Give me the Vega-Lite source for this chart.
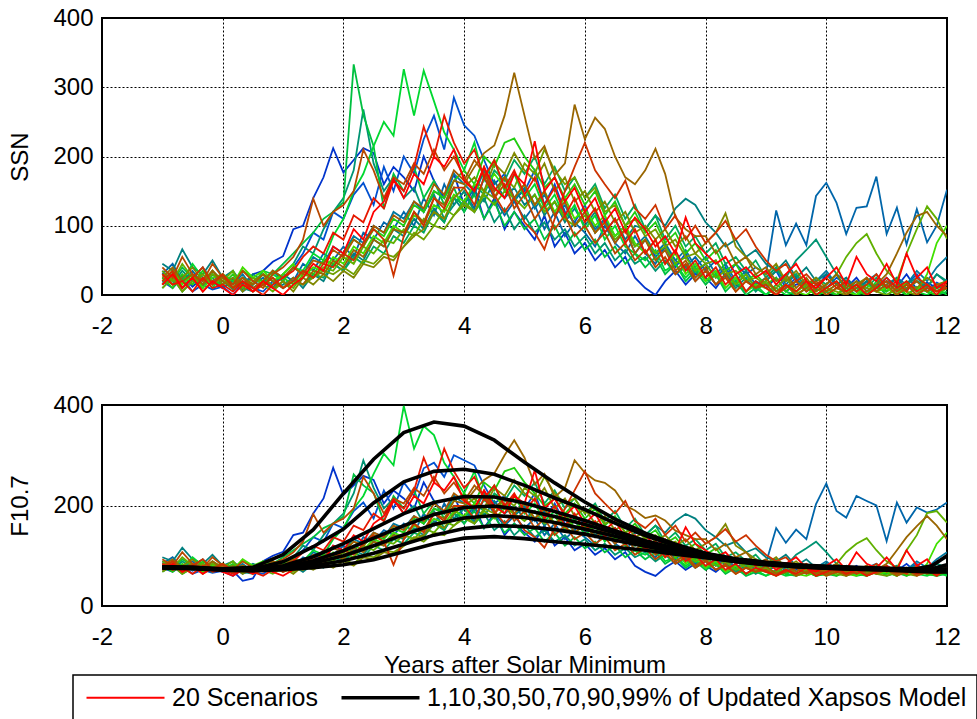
{
  "$schema": "https://vega.github.io/schema/vega-lite/v6.json",
  "usermeta": {"embedOptions": {"actions": false}},
  "background": "white",
  "padding": {"left": 7, "top": 5, "right": 0, "bottom": 0},
  "spacing": 110,
  "bounds": "flush",
  "config": {
    "font": "Liberation Sans",
    "view": {"stroke": "#000", "strokeWidth": 2},
    "axis": {
      "domain": false, "ticks": false, "tickSize": 0,
      "labelFont": "Liberation Sans", "labelFontSize": 24, "labelColor": "#000",
      "labelFlush": false, "labelOverlap": false,
      "titleFont": "Liberation Sans", "titleFontSize": 24, "titleFontWeight": "normal", "titleColor": "#000",
      "grid": true, "gridColor": "#000", "gridDash": [2, 2], "gridOpacity": 1, "gridWidth": 1
    },
    "axisX": {"labelPadding": 19, "titlePadding": 4, "labelExpr": "'' + datum.value"},
    "axisY": {"labelPadding": 9, "titlePadding": 20},
    "legend": {
      "labelFont": "Liberation Sans", "labelFontSize": 25, "labelColor": "#000", "labelLimit": 0,
      "symbolType": "stroke", "symbolSize": 6084, "symbolOffset": 30,
      "strokeColor": "#000", "strokeWidth": 1.5, "fillColor": "#fff", "padding": 10,
      "columnPadding": 16, "labelOffset": 34
    }
  },
  "datasets": {
    "ssn": [
      {"yr":-1,"A":35,"B":20,"C":30,"D":15,"E":45,"F":25,"G":10,"H":30,"I":15,"J":25,"K":20,"L":35,"M":10,"N":30,"O":25,"P":15,"Q":40,"R":20,"S":30,"T":15},
      {"yr":-0.83,"A":20,"B":10,"C":45,"D":30,"E":35,"F":15,"G":25,"H":20,"I":35,"J":10,"K":35,"L":20,"M":25,"N":15,"O":40,"P":30,"Q":25,"R":35,"S":15,"T":30},
      {"yr":-0.67,"A":28,"B":25,"C":20,"D":10,"E":66,"F":35,"G":5,"H":40,"I":20,"J":30,"K":15,"L":45,"M":5,"N":25,"O":20,"P":10,"Q":55,"R":10,"S":20,"T":10},
      {"yr":-0.5,"A":12,"B":5,"C":35,"D":25,"E":40,"F":20,"G":20,"H":25,"I":45,"J":15,"K":30,"L":25,"M":20,"N":40,"O":30,"P":25,"Q":30,"R":25,"S":5,"T":25},
      {"yr":-0.33,"A":25,"B":15,"C":15,"D":40,"E":30,"F":10,"G":30,"H":15,"I":25,"J":35,"K":10,"L":15,"M":30,"N":20,"O":15,"P":5,"Q":20,"R":40,"S":25,"T":5},
      {"yr":-0.17,"A":18,"B":8,"C":25,"D":20,"E":50,"F":30,"G":15,"H":35,"I":10,"J":20,"K":25,"L":30,"M":15,"N":35,"O":35,"P":20,"Q":45,"R":15,"S":10,"T":20},
      {"yr":0,"A":10,"B":12,"C":10,"D":25,"E":25,"F":15,"G":20,"H":20,"I":30,"J":15,"K":30,"L":20,"M":25,"N":15,"O":20,"P":30,"Q":25,"R":30,"S":15,"T":10},
      {"yr":0.17,"A":22,"B":0,"C":20,"D":15,"E":35,"F":25,"G":8,"H":10,"I":20,"J":30,"K":15,"L":35,"M":10,"N":25,"O":10,"P":15,"Q":15,"R":10,"S":5,"T":0},
      {"yr":0.33,"A":8,"B":18,"C":5,"D":30,"E":15,"F":10,"G":25,"H":25,"I":35,"J":10,"K":40,"L":10,"M":20,"N":5,"O":25,"P":25,"Q":35,"R":20,"S":20,"T":15},
      {"yr":0.5,"A":30,"B":10,"C":15,"D":10,"E":30,"F":5,"G":15,"H":15,"I":25,"J":25,"K":25,"L":25,"M":5,"N":20,"O":15,"P":10,"Q":20,"R":5,"S":10,"T":5},
      {"yr":0.67,"A":35,"B":5,"C":25,"D":20,"E":20,"F":20,"G":30,"H":35,"I":15,"J":20,"K":35,"L":15,"M":15,"N":30,"O":30,"P":20,"Q":10,"R":15,"S":0,"T":20},
      {"yr":0.83,"A":48,"B":20,"C":10,"D":35,"E":10,"F":15,"G":20,"H":30,"I":30,"J":35,"K":20,"L":5,"M":25,"N":10,"O":20,"P":35,"Q":30,"R":25,"S":15,"T":10},
      {"yr":1,"A":56,"B":25,"C":30,"D":20,"E":15,"F":30,"G":10,"H":45,"I":20,"J":25,"K":30,"L":20,"M":10,"N":20,"O":10,"P":25,"Q":40,"R":10,"S":25,"T":0},
      {"yr":1.17,"A":95,"B":40,"C":20,"D":40,"E":25,"F":45,"G":20,"H":60,"I":40,"J":15,"K":45,"L":10,"M":20,"N":5,"O":25,"P":40,"Q":55,"R":20,"S":35,"T":15},
      {"yr":1.33,"A":100,"B":60,"C":45,"D":30,"E":10,"F":70,"G":15,"H":75,"I":35,"J":35,"K":25,"L":30,"M":15,"N":25,"O":15,"P":30,"Q":80,"R":35,"S":55,"T":25},
      {"yr":1.5,"A":140,"B":90,"C":35,"D":55,"E":30,"F":60,"G":30,"H":90,"I":60,"J":30,"K":40,"L":25,"M":25,"N":15,"O":35,"P":50,"Q":139,"R":25,"S":70,"T":45},
      {"yr":1.67,"A":170,"B":80,"C":60,"D":45,"E":20,"F":95,"G":25,"H":110,"I":50,"J":50,"K":35,"L":40,"M":35,"N":30,"O":30,"P":45,"Q":100,"R":45,"S":60,"T":35},
      {"yr":1.83,"A":212,"B":120,"C":50,"D":70,"E":45,"F":120,"G":45,"H":120,"I":85,"J":45,"K":55,"L":35,"M":30,"N":20,"O":50,"P":65,"Q":120,"R":40,"S":90,"T":70},
      {"yr":2,"A":177,"B":110,"C":70,"D":60,"E":35,"F":140,"G":35,"H":134,"I":110,"J":60,"K":45,"L":55,"M":40,"N":35,"O":40,"P":55,"Q":130,"R":60,"S":80,"T":60},
      {"yr":2.17,"A":195,"B":145,"C":55,"D":85,"E":60,"F":180,"G":55,"H":333,"I":150,"J":80,"K":70,"L":45,"M":30,"N":25,"O":65,"P":80,"Q":150,"R":50,"S":115,"T":95},
      {"yr":2.33,"A":212,"B":162,"C":90,"D":75,"E":50,"F":268,"G":45,"H":260,"I":175,"J":70,"K":60,"L":70,"M":50,"N":45,"O":55,"P":70,"Q":210,"R":75,"S":105,"T":80},
      {"yr":2.5,"A":205,"B":130,"C":80,"D":100,"E":80,"F":190,"G":70,"H":215,"I":215,"J":95,"K":85,"L":60,"M":45,"N":40,"O":80,"P":100,"Q":180,"R":95,"S":140,"T":120},
      {"yr":2.67,"A":160,"B":185,"C":105,"D":90,"E":70,"F":150,"G":60,"H":124,"I":250,"J":85,"K":75,"L":80,"M":60,"N":55,"O":70,"P":90,"Q":140,"R":80,"S":125,"T":135},
      {"yr":2.83,"A":185,"B":150,"C":95,"D":120,"E":95,"F":170,"G":85,"H":175,"I":230,"J":110,"K":100,"L":75,"M":55,"N":50,"O":95,"P":115,"Q":170,"R":28,"S":165,"T":167},
      {"yr":3,"A":170,"B":200,"C":120,"D":110,"E":85,"F":140,"G":75,"H":150,"I":326,"J":100,"K":90,"L":95,"M":70,"N":70,"O":90,"P":105,"Q":160,"R":85,"S":150,"T":140},
      {"yr":3.17,"A":150,"B":175,"C":100,"D":135,"E":110,"F":155,"G":100,"H":185,"I":259,"J":130,"K":115,"L":85,"M":90,"N":85,"O":120,"P":135,"Q":190,"R":120,"S":185,"T":175},
      {"yr":3.33,"A":200,"B":225,"C":140,"D":120,"E":95,"F":120,"G":90,"H":140,"I":324,"J":120,"K":105,"L":110,"M":80,"N":95,"O":105,"P":125,"Q":175,"R":100,"S":243,"T":160},
      {"yr":3.5,"A":165,"B":259,"C":115,"D":150,"E":125,"F":145,"G":120,"H":165,"I":280,"J":150,"K":130,"L":100,"M":100,"N":120,"O":140,"P":160,"Q":210,"R":140,"S":200,"T":200},
      {"yr":3.67,"A":140,"B":210,"C":160,"D":140,"E":105,"F":110,"G":105,"H":130,"I":235,"J":140,"K":120,"L":125,"M":95,"N":110,"O":130,"P":145,"Q":180,"R":125,"S":259,"T":185},
      {"yr":3.83,"A":175,"B":285,"C":130,"D":175,"E":140,"F":130,"G":140,"H":155,"I":210,"J":165,"K":145,"L":115,"M":115,"N":140,"O":165,"P":180,"Q":200,"R":155,"S":220,"T":210},
      {"yr":4,"A":130,"B":245,"C":150,"D":160,"E":120,"F":150,"G":130,"H":120,"I":180,"J":180,"K":135,"L":135,"M":130,"N":155,"O":160,"P":165,"Q":170,"R":155,"S":190,"T":165},
      {"yr":4.17,"A":155,"B":230,"C":125,"D":145,"E":150,"F":120,"G":160,"H":145,"I":220,"J":160,"K":160,"L":120,"M":120,"N":170,"O":185,"P":195,"Q":150,"R":130,"S":210,"T":150},
      {"yr":4.33,"A":110,"B":195,"C":170,"D":180,"E":135,"F":140,"G":145,"H":110,"I":165,"J":200,"K":150,"L":145,"M":150,"N":150,"O":205,"P":175,"Q":185,"R":170,"S":170,"T":185},
      {"yr":4.5,"A":140,"B":160,"C":140,"D":150,"E":165,"F":105,"G":180,"H":135,"I":195,"J":185,"K":175,"L":130,"M":140,"N":190,"O":216,"P":150,"Q":140,"R":145,"S":195,"T":155},
      {"yr":4.67,"A":95,"B":175,"C":115,"D":170,"E":140,"F":125,"G":165,"H":100,"I":150,"J":220,"K":155,"L":150,"M":170,"N":175,"O":259,"P":170,"Q":160,"R":120,"S":155,"T":140},
      {"yr":4.83,"A":120,"B":140,"C":135,"D":135,"E":155,"F":95,"G":195,"H":120,"I":175,"J":226,"K":140,"L":140,"M":155,"N":205,"O":321,"P":140,"Q":125,"R":140,"S":180,"T":175},
      {"yr":5,"A":100,"B":150,"C":110,"D":155,"E":130,"F":115,"G":175,"H":95,"I":140,"J":200,"K":160,"L":125,"M":190,"N":180,"O":259,"P":160,"Q":145,"R":105,"S":145,"T":160},
      {"yr":5.17,"A":80,"B":180,"C":130,"D":125,"E":145,"F":90,"G":200,"H":110,"I":160,"J":180,"K":130,"L":145,"M":175,"N":165,"O":197,"P":130,"Q":110,"R":90,"S":170,"T":222},
      {"yr":5.33,"A":115,"B":130,"C":95,"D":145,"E":115,"F":105,"G":160,"H":80,"I":125,"J":155,"K":150,"L":120,"M":210,"N":190,"O":215,"P":150,"Q":130,"R":66,"S":130,"T":150},
      {"yr":5.5,"A":70,"B":160,"C":120,"D":115,"E":135,"F":80,"G":185,"H":100,"I":145,"J":170,"K":120,"L":135,"M":180,"N":150,"O":173,"P":115,"Q":95,"R":110,"S":155,"T":170},
      {"yr":5.67,"A":90,"B":120,"C":85,"D":130,"E":105,"F":95,"G":150,"H":70,"I":110,"J":140,"K":140,"L":110,"M":160,"N":170,"O":190,"P":135,"Q":115,"R":150,"S":115,"T":135},
      {"yr":5.83,"A":60,"B":105,"C":105,"D":100,"E":125,"F":70,"G":170,"H":90,"I":130,"J":160,"K":110,"L":100,"M":170,"N":135,"O":275,"P":100,"Q":85,"R":185,"S":140,"T":155},
      {"yr":6,"A":75,"B":130,"C":90,"D":120,"E":100,"F":85,"G":140,"H":65,"I":95,"J":130,"K":125,"L":115,"M":140,"N":150,"O":225,"P":120,"Q":100,"R":220,"S":105,"T":120},
      {"yr":6.17,"A":50,"B":90,"C":70,"D":95,"E":120,"F":60,"G":160,"H":80,"I":115,"J":150,"K":100,"L":90,"M":155,"N":120,"O":256,"P":90,"Q":75,"R":180,"S":125,"T":140},
      {"yr":6.33,"A":65,"B":110,"C":100,"D":110,"E":90,"F":75,"G":125,"H":55,"I":80,"J":115,"K":115,"L":105,"M":120,"N":135,"O":240,"P":105,"Q":90,"R":160,"S":90,"T":105},
      {"yr":6.5,"A":40,"B":75,"C":75,"D":85,"E":110,"F":50,"G":145,"H":70,"I":100,"J":135,"K":85,"L":80,"M":130,"N":105,"O":200,"P":75,"Q":60,"R":140,"S":110,"T":125},
      {"yr":6.67,"A":55,"B":95,"C":60,"D":100,"E":80,"F":65,"G":110,"H":45,"I":70,"J":100,"K":100,"L":95,"M":100,"N":120,"O":170,"P":95,"Q":75,"R":165,"S":75,"T":90},
      {"yr":6.83,"A":25,"B":60,"C":85,"D":70,"E":100,"F":45,"G":130,"H":60,"I":60,"J":120,"K":75,"L":70,"M":110,"N":90,"O":160,"P":60,"Q":50,"R":125,"S":95,"T":112},
      {"yr":7,"A":10,"B":80,"C":60,"D":85,"E":95,"F":55,"G":95,"H":40,"I":50,"J":90,"K":60,"L":80,"M":85,"N":100,"O":180,"P":80,"Q":65,"R":110,"S":60,"T":95},
      {"yr":7.17,"A":0,"B":55,"C":45,"D":60,"E":115,"F":35,"G":115,"H":55,"I":65,"J":105,"K":80,"L":60,"M":95,"N":80,"O":211,"P":50,"Q":40,"R":130,"S":80,"T":70},
      {"yr":7.33,"A":20,"B":70,"C":70,"D":75,"E":100,"F":50,"G":80,"H":30,"I":35,"J":75,"K":45,"L":70,"M":70,"N":95,"O":175,"P":65,"Q":55,"R":95,"S":45,"T":85},
      {"yr":7.5,"A":35,"B":40,"C":50,"D":50,"E":125,"F":30,"G":100,"H":45,"I":45,"J":90,"K":60,"L":45,"M":80,"N":70,"O":112,"P":35,"Q":30,"R":115,"S":65,"T":60},
      {"yr":7.67,"A":15,"B":60,"C":40,"D":65,"E":139,"F":40,"G":70,"H":20,"I":25,"J":60,"K":30,"L":55,"M":55,"N":85,"O":95,"P":50,"Q":45,"R":80,"S":35,"T":112},
      {"yr":7.83,"A":30,"B":30,"C":55,"D":40,"E":130,"F":20,"G":85,"H":35,"I":40,"J":75,"K":45,"L":35,"M":60,"N":60,"O":85,"P":25,"Q":20,"R":100,"S":50,"T":75},
      {"yr":8,"A":25,"B":45,"C":35,"D":55,"E":105,"F":35,"G":60,"H":15,"I":20,"J":50,"K":20,"L":45,"M":45,"N":75,"O":85,"P":40,"Q":35,"R":75,"S":25,"T":60},
      {"yr":8.17,"A":10,"B":25,"C":50,"D":30,"E":90,"F":15,"G":75,"H":30,"I":30,"J":65,"K":35,"L":25,"M":50,"N":90,"O":60,"P":15,"Q":15,"R":90,"S":40,"T":45},
      {"yr":8.33,"A":30,"B":40,"C":25,"D":45,"E":70,"F":30,"G":45,"H":5,"I":10,"J":35,"K":10,"L":35,"M":30,"N":118,"O":75,"P":30,"Q":25,"R":107,"S":15,"T":55},
      {"yr":8.5,"A":15,"B":15,"C":45,"D":20,"E":80,"F":10,"G":55,"H":20,"I":25,"J":45,"K":25,"L":15,"M":35,"N":70,"O":45,"P":5,"Q":5,"R":80,"S":30,"T":30},
      {"yr":8.67,"A":5,"B":30,"C":30,"D":35,"E":55,"F":25,"G":35,"H":0,"I":5,"J":20,"K":5,"L":30,"M":20,"N":55,"O":55,"P":20,"Q":20,"R":95,"S":5,"T":40},
      {"yr":8.83,"A":20,"B":10,"C":40,"D":15,"E":65,"F":5,"G":50,"H":10,"I":15,"J":30,"K":15,"L":10,"M":25,"N":40,"O":30,"P":10,"Q":10,"R":70,"S":20,"T":25},
      {"yr":9,"A":10,"B":20,"C":30,"D":25,"E":45,"F":20,"G":25,"H":0,"I":0,"J":15,"K":10,"L":20,"M":15,"N":30,"O":40,"P":25,"Q":15,"R":50,"S":10,"T":35},
      {"yr":9.17,"A":25,"B":35,"C":122,"D":40,"E":35,"F":35,"G":40,"H":15,"I":10,"J":25,"K":0,"L":5,"M":10,"N":45,"O":20,"P":5,"Q":0,"R":35,"S":0,"T":15},
      {"yr":9.33,"A":5,"B":10,"C":72,"D":15,"E":50,"F":25,"G":20,"H":5,"I":0,"J":5,"K":15,"L":15,"M":25,"N":20,"O":30,"P":15,"Q":10,"R":45,"S":15,"T":30},
      {"yr":9.5,"A":15,"B":25,"C":103,"D":30,"E":25,"F":50,"G":30,"H":0,"I":5,"J":20,"K":5,"L":0,"M":5,"N":35,"O":10,"P":0,"Q":20,"R":20,"S":5,"T":45},
      {"yr":9.67,"A":20,"B":5,"C":72,"D":10,"E":40,"F":65,"G":10,"H":10,"I":15,"J":10,"K":0,"L":10,"M":15,"N":15,"O":25,"P":10,"Q":5,"R":30,"S":20,"T":20},
      {"yr":9.83,"A":8,"B":15,"C":143,"D":20,"E":20,"F":80,"G":25,"H":0,"I":0,"J":0,"K":10,"L":5,"M":0,"N":25,"O":5,"P":20,"Q":15,"R":15,"S":0,"T":10},
      {"yr":10,"A":30,"B":10,"C":162,"D":35,"E":30,"F":55,"G":15,"H":5,"I":5,"J":10,"K":0,"L":15,"M":10,"N":10,"O":15,"P":5,"Q":0,"R":25,"S":10,"T":25},
      {"yr":10.17,"A":15,"B":25,"C":133,"D":15,"E":15,"F":30,"G":30,"H":0,"I":15,"J":0,"K":10,"L":30,"M":5,"N":20,"O":30,"P":15,"Q":10,"R":10,"S":20,"T":40},
      {"yr":10.33,"A":10,"B":15,"C":88,"D":25,"E":25,"F":20,"G":5,"H":10,"I":0,"J":15,"K":5,"L":55,"M":0,"N":5,"O":10,"P":0,"Q":5,"R":20,"S":5,"T":15},
      {"yr":10.5,"A":25,"B":5,"C":126,"D":5,"E":10,"F":5,"G":20,"H":0,"I":10,"J":5,"K":0,"L":75,"M":15,"N":15,"O":20,"P":10,"Q":15,"R":5,"S":15,"T":55},
      {"yr":10.67,"A":5,"B":20,"C":128,"D":20,"E":20,"F":15,"G":10,"H":5,"I":0,"J":0,"K":15,"L":88,"M":10,"N":25,"O":5,"P":25,"Q":0,"R":15,"S":0,"T":30},
      {"yr":10.83,"A":15,"B":12,"C":171,"D":30,"E":5,"F":10,"G":25,"H":15,"I":20,"J":10,"K":5,"L":60,"M":5,"N":10,"O":15,"P":5,"Q":10,"R":30,"S":10,"T":20},
      {"yr":11,"A":20,"B":25,"C":88,"D":10,"E":15,"F":20,"G":5,"H":0,"I":10,"J":5,"K":10,"L":35,"M":0,"N":20,"O":30,"P":15,"Q":20,"R":10,"S":25,"T":45},
      {"yr":11.17,"A":12,"B":10,"C":126,"D":25,"E":25,"F":5,"G":15,"H":8,"I":0,"J":15,"K":0,"L":20,"M":10,"N":5,"O":60,"P":0,"Q":5,"R":20,"S":10,"T":15},
      {"yr":11.33,"A":30,"B":15,"C":73,"D":15,"E":8,"F":15,"G":10,"H":0,"I":15,"J":0,"K":20,"L":60,"M":5,"N":15,"O":90,"P":10,"Q":15,"R":5,"S":20,"T":60},
      {"yr":11.5,"A":8,"B":30,"C":124,"D":35,"E":20,"F":25,"G":20,"H":12,"I":5,"J":10,"K":5,"L":95,"M":0,"N":10,"O":114,"P":20,"Q":0,"R":25,"S":5,"T":25},
      {"yr":11.67,"A":18,"B":5,"C":76,"D":20,"E":12,"F":10,"G":5,"H":5,"I":0,"J":5,"K":30,"L":128,"M":15,"N":25,"O":120,"P":5,"Q":10,"R":15,"S":15,"T":40},
      {"yr":11.83,"A":10,"B":18,"C":100,"D":40,"E":30,"F":30,"G":12,"H":0,"I":10,"J":0,"K":75,"L":110,"M":5,"N":15,"O":100,"P":15,"Q":5,"R":5,"S":0,"T":10},
      {"yr":12,"A":22,"B":10,"C":152,"D":55,"E":18,"F":20,"G":8,"H":5,"I":0,"J":10,"K":100,"L":81,"M":10,"N":20,"O":85,"P":10,"Q":15,"R":10,"S":20,"T":20}
    ],
    "f107": [
      {"yr":-1,"A":89,"B":76,"C":84,"D":72,"E":97,"F":80,"G":68,"H":84,"I":72,"J":80,"K":76,"L":89,"M":68,"N":84,"O":80,"P":72,"Q":93,"R":76,"S":84,"T":72},
      {"yr":-0.83,"A":76,"B":68,"C":97,"D":84,"E":89,"F":72,"G":80,"H":76,"I":89,"J":68,"K":89,"L":76,"M":80,"N":72,"O":93,"P":84,"Q":80,"R":89,"S":72,"T":84},
      {"yr":-0.67,"A":82,"B":80,"C":76,"D":68,"E":116,"F":89,"G":64,"H":93,"I":76,"J":84,"K":72,"L":97,"M":64,"N":80,"O":76,"P":68,"Q":107,"R":68,"S":76,"T":68},
      {"yr":-0.5,"A":70,"B":64,"C":89,"D":80,"E":93,"F":76,"G":76,"H":80,"I":97,"J":72,"K":84,"L":80,"M":76,"N":93,"O":84,"P":80,"Q":84,"R":80,"S":64,"T":80},
      {"yr":-0.33,"A":80,"B":72,"C":72,"D":93,"E":84,"F":68,"G":84,"H":72,"I":80,"J":89,"K":68,"L":72,"M":84,"N":76,"O":72,"P":64,"Q":76,"R":93,"S":80,"T":64},
      {"yr":-0.17,"A":74,"B":66,"C":80,"D":76,"E":102,"F":84,"G":72,"H":89,"I":68,"J":76,"K":80,"L":84,"M":72,"N":89,"O":89,"P":76,"Q":97,"R":72,"S":68,"T":76},
      {"yr":0,"A":68,"B":70,"C":68,"D":80,"E":80,"F":72,"G":76,"H":76,"I":84,"J":72,"K":84,"L":76,"M":80,"N":72,"O":76,"P":84,"Q":80,"R":84,"S":72,"T":68},
      {"yr":0.17,"A":70,"B":60,"C":76,"D":72,"E":89,"F":80,"G":66,"H":68,"I":76,"J":84,"K":72,"L":89,"M":68,"N":80,"O":68,"P":72,"Q":72,"R":68,"S":64,"T":60},
      {"yr":0.33,"A":50,"B":74,"C":64,"D":84,"E":72,"F":68,"G":80,"H":80,"I":89,"J":68,"K":93,"L":68,"M":76,"N":64,"O":80,"P":80,"Q":89,"R":76,"S":76,"T":72},
      {"yr":0.5,"A":55,"B":68,"C":72,"D":68,"E":84,"F":64,"G":72,"H":72,"I":80,"J":80,"K":80,"L":80,"M":64,"N":76,"O":72,"P":68,"Q":76,"R":64,"S":68,"T":64},
      {"yr":0.67,"A":89,"B":64,"C":80,"D":76,"E":76,"F":76,"G":84,"H":89,"I":72,"J":76,"K":89,"L":72,"M":72,"N":84,"O":84,"P":76,"Q":68,"R":72,"S":60,"T":76},
      {"yr":0.83,"A":100,"B":76,"C":68,"D":89,"E":68,"F":72,"G":76,"H":84,"I":84,"J":89,"K":76,"L":64,"M":80,"N":68,"O":76,"P":89,"Q":84,"R":80,"S":72,"T":68},
      {"yr":1,"A":108,"B":80,"C":84,"D":76,"E":72,"F":84,"G":68,"H":97,"I":76,"J":80,"K":84,"L":76,"M":68,"N":76,"O":68,"P":80,"Q":93,"R":68,"S":80,"T":60},
      {"yr":1.17,"A":141,"B":93,"C":76,"D":93,"E":80,"F":97,"G":76,"H":111,"I":93,"J":72,"K":97,"L":68,"M":76,"N":64,"O":80,"P":93,"Q":107,"R":76,"S":89,"T":72},
      {"yr":1.33,"A":146,"B":111,"C":97,"D":84,"E":68,"F":120,"G":72,"H":124,"I":89,"J":89,"K":80,"L":84,"M":72,"N":80,"O":72,"P":84,"Q":128,"R":89,"S":107,"T":80},
      {"yr":1.5,"A":184,"B":137,"C":89,"D":107,"E":84,"F":111,"G":84,"H":137,"I":111,"J":84,"K":93,"L":80,"M":80,"N":72,"O":89,"P":102,"Q":183,"R":80,"S":120,"T":97},
      {"yr":1.67,"A":214,"B":128,"C":111,"D":97,"E":76,"F":141,"G":80,"H":155,"I":102,"J":102,"K":89,"L":93,"M":89,"N":84,"O":84,"P":97,"Q":146,"R":97,"S":111,"T":89},
      {"yr":1.83,"A":275,"B":164,"C":102,"D":120,"E":97,"F":164,"G":97,"H":164,"I":133,"J":97,"K":107,"L":89,"M":84,"N":76,"O":102,"P":115,"Q":164,"R":93,"S":137,"T":120},
      {"yr":2,"A":221,"B":155,"C":120,"D":111,"E":89,"F":184,"G":89,"H":178,"I":155,"J":111,"K":97,"L":107,"M":93,"N":89,"O":93,"P":107,"Q":174,"R":111,"S":128,"T":111},
      {"yr":2.17,"A":240,"B":189,"C":107,"D":133,"E":111,"F":224,"G":107,"H":262,"I":194,"J":128,"K":120,"L":97,"M":84,"N":80,"O":115,"P":128,"Q":194,"R":102,"S":160,"T":141},
      {"yr":2.33,"A":259,"B":206,"C":137,"D":124,"E":102,"F":290,"G":97,"H":240,"I":219,"J":120,"K":111,"L":120,"M":102,"N":97,"O":107,"P":120,"Q":257,"R":124,"S":151,"T":128},
      {"yr":2.5,"A":251,"B":174,"C":128,"D":146,"E":128,"F":235,"G":120,"H":225,"I":263,"J":141,"K":133,"L":111,"M":97,"N":93,"O":128,"P":146,"Q":224,"R":141,"S":184,"T":164},
      {"yr":2.67,"A":204,"B":230,"C":151,"D":137,"E":120,"F":194,"G":111,"H":168,"I":303,"J":133,"K":124,"L":128,"M":111,"N":107,"O":120,"P":137,"Q":184,"R":128,"S":169,"T":179},
      {"yr":2.83,"A":230,"B":194,"C":141,"D":164,"E":141,"F":214,"G":133,"H":219,"I":280,"J":155,"K":146,"L":124,"M":107,"N":102,"O":141,"P":160,"Q":214,"R":82,"S":209,"T":211},
      {"yr":3,"A":214,"B":246,"C":164,"D":155,"E":133,"F":184,"G":124,"H":194,"I":398,"J":146,"K":137,"L":141,"M":120,"N":120,"O":137,"P":151,"Q":204,"R":133,"S":194,"T":184},
      {"yr":3.17,"A":194,"B":219,"C":146,"D":179,"E":155,"F":199,"G":146,"H":230,"I":313,"J":174,"K":160,"L":133,"M":137,"N":133,"O":164,"P":179,"Q":235,"R":164,"S":230,"T":219},
      {"yr":3.33,"A":246,"B":274,"C":184,"D":164,"E":141,"F":164,"G":137,"H":184,"I":358,"J":164,"K":151,"L":155,"M":128,"N":141,"O":151,"P":169,"Q":219,"R":146,"S":295,"T":204},
      {"yr":3.5,"A":209,"B":285,"C":160,"D":194,"E":169,"F":189,"G":164,"H":209,"I":340,"J":194,"K":174,"L":146,"M":146,"N":164,"O":184,"P":204,"Q":257,"R":184,"S":246,"T":246},
      {"yr":3.67,"A":184,"B":257,"C":204,"D":184,"E":151,"F":155,"G":151,"H":174,"I":285,"J":184,"K":164,"L":169,"M":141,"N":155,"O":174,"P":189,"Q":224,"R":169,"S":313,"T":230},
      {"yr":3.83,"A":219,"B":300,"C":174,"D":219,"E":184,"F":174,"G":184,"H":199,"I":257,"J":209,"K":189,"L":160,"M":160,"N":184,"O":209,"P":224,"Q":246,"R":199,"S":268,"T":257},
      {"yr":4,"A":174,"B":290,"C":194,"D":204,"E":164,"F":194,"G":174,"H":164,"I":224,"J":224,"K":179,"L":179,"M":174,"N":199,"O":204,"P":209,"Q":214,"R":199,"S":235,"T":209},
      {"yr":4.17,"A":199,"B":280,"C":169,"D":189,"E":194,"F":164,"G":204,"H":189,"I":268,"J":204,"K":204,"L":164,"M":164,"N":214,"O":230,"P":240,"Q":194,"R":174,"S":257,"T":194},
      {"yr":4.33,"A":155,"B":240,"C":214,"D":224,"E":179,"F":184,"G":189,"H":155,"I":209,"J":246,"K":194,"L":189,"M":194,"N":194,"O":251,"P":219,"Q":230,"R":214,"S":214,"T":230},
      {"yr":4.5,"A":184,"B":204,"C":184,"D":194,"E":209,"F":151,"G":224,"H":179,"I":240,"J":230,"K":219,"L":174,"M":184,"N":235,"O":264,"P":194,"Q":184,"R":189,"S":240,"T":199},
      {"yr":4.67,"A":141,"B":219,"C":160,"D":214,"E":184,"F":169,"G":209,"H":146,"I":194,"J":268,"K":199,"L":194,"M":214,"N":219,"O":300,"P":214,"Q":204,"R":164,"S":199,"T":184},
      {"yr":4.83,"A":164,"B":184,"C":179,"D":179,"E":199,"F":141,"G":240,"H":164,"I":219,"J":275,"K":184,"L":184,"M":199,"N":251,"O":330,"P":184,"Q":169,"R":184,"S":224,"T":219},
      {"yr":5,"A":146,"B":194,"C":155,"D":199,"E":174,"F":160,"G":219,"H":141,"I":184,"J":246,"K":204,"L":169,"M":235,"N":224,"O":295,"P":204,"Q":189,"R":151,"S":189,"T":204},
      {"yr":5.17,"A":128,"B":224,"C":174,"D":169,"E":189,"F":137,"G":246,"H":155,"I":204,"J":224,"K":174,"L":189,"M":219,"N":209,"O":242,"P":174,"Q":155,"R":137,"S":214,"T":270},
      {"yr":5.33,"A":160,"B":174,"C":141,"D":189,"E":160,"F":151,"G":204,"H":128,"I":169,"J":199,"K":194,"L":164,"M":257,"N":235,"O":263,"P":194,"Q":174,"R":116,"S":174,"T":194},
      {"yr":5.5,"A":120,"B":204,"C":164,"D":160,"E":179,"F":128,"G":230,"H":146,"I":189,"J":214,"K":164,"L":179,"M":224,"N":194,"O":217,"P":160,"Q":141,"R":155,"S":199,"T":214},
      {"yr":5.67,"A":137,"B":164,"C":133,"D":174,"E":151,"F":141,"G":194,"H":120,"I":155,"J":184,"K":184,"L":155,"M":204,"N":214,"O":235,"P":179,"Q":160,"R":194,"S":160,"T":179},
      {"yr":5.83,"A":111,"B":151,"C":151,"D":146,"E":169,"F":120,"G":214,"H":137,"I":174,"J":204,"K":155,"L":146,"M":214,"N":179,"O":290,"P":146,"Q":133,"R":230,"S":184,"T":199},
      {"yr":6,"A":124,"B":174,"C":137,"D":164,"E":146,"F":133,"G":184,"H":115,"I":141,"J":174,"K":169,"L":160,"M":184,"N":194,"O":265,"P":164,"Q":146,"R":268,"S":151,"T":164},
      {"yr":6.17,"A":102,"B":137,"C":120,"D":141,"E":164,"F":111,"G":204,"H":128,"I":160,"J":194,"K":146,"L":137,"M":199,"N":164,"O":250,"P":137,"Q":124,"R":224,"S":169,"T":184},
      {"yr":6.33,"A":115,"B":155,"C":146,"D":155,"E":137,"F":124,"G":169,"H":107,"I":128,"J":160,"K":160,"L":151,"M":164,"N":179,"O":245,"P":151,"Q":137,"R":204,"S":137,"T":151},
      {"yr":6.5,"A":93,"B":124,"C":124,"D":133,"E":155,"F":102,"G":189,"H":120,"I":146,"J":179,"K":133,"L":128,"M":174,"N":151,"O":230,"P":124,"Q":111,"R":184,"S":155,"T":169},
      {"yr":6.67,"A":107,"B":141,"C":111,"D":146,"E":128,"F":115,"G":155,"H":97,"I":120,"J":146,"K":146,"L":141,"M":146,"N":164,"O":200,"P":141,"Q":124,"R":209,"S":124,"T":137},
      {"yr":6.83,"A":80,"B":111,"C":133,"D":120,"E":146,"F":97,"G":174,"H":111,"I":111,"J":164,"K":124,"L":120,"M":155,"N":137,"O":190,"P":111,"Q":102,"R":169,"S":141,"T":157},
      {"yr":7,"A":68,"B":128,"C":111,"D":133,"E":141,"F":107,"G":141,"H":93,"I":102,"J":137,"K":111,"L":128,"M":133,"N":146,"O":175,"P":128,"Q":115,"R":155,"S":111,"T":141},
      {"yr":7.17,"A":60,"B":107,"C":97,"D":111,"E":160,"F":89,"G":160,"H":107,"I":115,"J":151,"K":128,"L":111,"M":141,"N":128,"O":180,"P":102,"Q":93,"R":174,"S":128,"T":120},
      {"yr":7.33,"A":76,"B":120,"C":120,"D":124,"E":146,"F":102,"G":128,"H":84,"I":89,"J":124,"K":97,"L":120,"M":120,"N":141,"O":170,"P":115,"Q":107,"R":141,"S":97,"T":133},
      {"yr":7.5,"A":89,"B":93,"C":102,"D":102,"E":169,"F":84,"G":146,"H":97,"I":97,"J":137,"K":111,"L":97,"M":128,"N":120,"O":150,"P":89,"Q":84,"R":160,"S":115,"T":111},
      {"yr":7.67,"A":72,"B":111,"C":93,"D":115,"E":183,"F":93,"G":120,"H":76,"I":80,"J":111,"K":84,"L":107,"M":107,"N":133,"O":141,"P":102,"Q":97,"R":128,"S":89,"T":157},
      {"yr":7.83,"A":84,"B":84,"C":107,"D":93,"E":174,"F":76,"G":133,"H":89,"I":93,"J":124,"K":97,"L":89,"M":111,"N":111,"O":133,"P":80,"Q":76,"R":146,"S":102,"T":124},
      {"yr":8,"A":80,"B":97,"C":89,"D":107,"E":151,"F":89,"G":111,"H":72,"I":76,"J":102,"K":76,"L":97,"M":97,"N":124,"O":133,"P":93,"Q":89,"R":124,"S":80,"T":111},
      {"yr":8.17,"A":68,"B":80,"C":102,"D":84,"E":137,"F":72,"G":124,"H":84,"I":84,"J":115,"K":89,"L":80,"M":102,"N":137,"O":111,"P":72,"Q":72,"R":137,"S":93,"T":97},
      {"yr":8.33,"A":84,"B":93,"C":80,"D":97,"E":120,"F":84,"G":97,"H":64,"I":68,"J":89,"K":68,"L":89,"M":84,"N":163,"O":124,"P":84,"Q":80,"R":153,"S":72,"T":107},
      {"yr":8.5,"A":72,"B":72,"C":97,"D":76,"E":128,"F":68,"G":107,"H":76,"I":80,"J":97,"K":80,"L":72,"M":89,"N":120,"O":97,"P":64,"Q":64,"R":128,"S":84,"T":84},
      {"yr":8.67,"A":64,"B":84,"C":84,"D":89,"E":107,"F":80,"G":89,"H":60,"I":64,"J":76,"K":64,"L":84,"M":76,"N":107,"O":107,"P":76,"Q":76,"R":141,"S":64,"T":93},
      {"yr":8.83,"A":76,"B":68,"C":93,"D":72,"E":115,"F":64,"G":102,"H":68,"I":72,"J":84,"K":72,"L":68,"M":80,"N":93,"O":84,"P":68,"Q":68,"R":120,"S":76,"T":80},
      {"yr":9,"A":68,"B":76,"C":85,"D":80,"E":97,"F":76,"G":80,"H":60,"I":60,"J":72,"K":68,"L":76,"M":72,"N":84,"O":93,"P":80,"Q":72,"R":102,"S":68,"T":89},
      {"yr":9.17,"A":80,"B":89,"C":155,"D":93,"E":89,"F":89,"G":93,"H":72,"I":68,"J":80,"K":60,"L":64,"M":68,"N":97,"O":76,"P":64,"Q":60,"R":89,"S":60,"T":72},
      {"yr":9.33,"A":64,"B":68,"C":126,"D":72,"E":102,"F":80,"G":76,"H":64,"I":60,"J":64,"K":72,"L":72,"M":80,"N":76,"O":84,"P":72,"Q":68,"R":97,"S":72,"T":84},
      {"yr":9.5,"A":72,"B":80,"C":152,"D":84,"E":80,"F":102,"G":84,"H":60,"I":64,"J":76,"K":64,"L":60,"M":64,"N":89,"O":68,"P":60,"Q":76,"R":76,"S":64,"T":97},
      {"yr":9.67,"A":76,"B":64,"C":133,"D":68,"E":93,"F":115,"G":68,"H":68,"I":72,"J":68,"K":60,"L":68,"M":72,"N":72,"O":80,"P":68,"Q":64,"R":84,"S":76,"T":76},
      {"yr":9.83,"A":66,"B":72,"C":203,"D":76,"E":76,"F":128,"G":80,"H":60,"I":60,"J":60,"K":68,"L":64,"M":60,"N":80,"O":64,"P":76,"Q":72,"R":72,"S":60,"T":68},
      {"yr":10,"A":84,"B":68,"C":244,"D":89,"E":84,"F":107,"G":72,"H":64,"I":64,"J":68,"K":60,"L":72,"M":68,"N":68,"O":72,"P":64,"Q":60,"R":80,"S":68,"T":80},
      {"yr":10.17,"A":72,"B":80,"C":189,"D":72,"E":72,"F":84,"G":84,"H":60,"I":72,"J":60,"K":68,"L":84,"M":64,"N":76,"O":84,"P":72,"Q":68,"R":68,"S":76,"T":93},
      {"yr":10.33,"A":68,"B":72,"C":176,"D":80,"E":80,"F":76,"G":64,"H":68,"I":60,"J":72,"K":64,"L":107,"M":60,"N":64,"O":68,"P":60,"Q":64,"R":76,"S":64,"T":72},
      {"yr":10.5,"A":80,"B":64,"C":219,"D":64,"E":68,"F":64,"G":76,"H":60,"I":68,"J":64,"K":60,"L":124,"M":72,"N":72,"O":76,"P":68,"Q":72,"R":64,"S":72,"T":107},
      {"yr":10.67,"A":64,"B":76,"C":209,"D":76,"E":76,"F":72,"G":68,"H":64,"I":60,"J":60,"K":72,"L":135,"M":68,"N":80,"O":64,"P":80,"Q":60,"R":72,"S":60,"T":84},
      {"yr":10.83,"A":72,"B":70,"C":200,"D":84,"E":64,"F":68,"G":80,"H":72,"I":76,"J":68,"K":64,"L":111,"M":64,"N":68,"O":72,"P":64,"Q":68,"R":84,"S":68,"T":76},
      {"yr":11,"A":76,"B":80,"C":129,"D":68,"E":72,"F":76,"G":64,"H":60,"I":68,"J":64,"K":68,"L":89,"M":60,"N":76,"O":84,"P":72,"Q":76,"R":68,"S":80,"T":97},
      {"yr":11.17,"A":70,"B":68,"C":206,"D":80,"E":80,"F":64,"G":72,"H":66,"I":60,"J":72,"K":60,"L":76,"M":68,"N":64,"O":111,"P":60,"Q":64,"R":76,"S":68,"T":72},
      {"yr":11.33,"A":84,"B":72,"C":166,"D":72,"E":66,"F":72,"G":68,"H":60,"I":72,"J":60,"K":76,"L":111,"M":64,"N":72,"O":137,"P":68,"Q":72,"R":64,"S":76,"T":111},
      {"yr":11.5,"A":66,"B":84,"C":196,"D":89,"E":76,"F":80,"G":76,"H":70,"I":64,"J":68,"K":64,"L":141,"M":60,"N":68,"O":159,"P":76,"Q":60,"R":80,"S":64,"T":80},
      {"yr":11.67,"A":74,"B":64,"C":186,"D":76,"E":70,"F":68,"G":64,"H":64,"I":60,"J":64,"K":84,"L":185,"M":72,"N":80,"O":179,"P":64,"Q":68,"R":72,"S":72,"T":93},
      {"yr":11.83,"A":68,"B":74,"C":192,"D":93,"E":84,"F":84,"G":70,"H":60,"I":68,"J":60,"K":124,"L":189,"M":64,"N":72,"O":160,"P":72,"Q":64,"R":64,"S":60,"T":68},
      {"yr":12,"A":78,"B":68,"C":206,"D":107,"E":74,"F":76,"G":66,"H":64,"I":60,"J":68,"K":146,"L":166,"M":68,"N":76,"O":133,"P":68,"Q":72,"R":68,"S":76,"T":76}
    ],
    "pct": [
      {"yr":-1,"p1":75,"p10":76,"p30":76,"p50":77,"p70":77,"p90":78,"p99":78},
      {"yr":-0.5,"p1":74,"p10":75,"p30":75,"p50":76,"p70":76,"p90":77,"p99":77},
      {"yr":0,"p1":71,"p10":72,"p30":72,"p50":73,"p70":73,"p90":73,"p99":74},
      {"yr":0.5,"p1":70,"p10":71,"p30":72,"p50":72,"p70":73,"p90":74,"p99":77},
      {"yr":1,"p1":72,"p10":74,"p30":75,"p50":77,"p70":80,"p90":88,"p99":102},
      {"yr":1.5,"p1":76,"p10":80,"p30":85,"p50":90,"p70":98,"p90":118,"p99":152},
      {"yr":2,"p1":82,"p10":90,"p30":100,"p50":110,"p70":124,"p90":153,"p99":224},
      {"yr":2.5,"p1":92,"p10":105,"p30":120,"p50":135,"p70":154,"p90":205,"p99":292},
      {"yr":3,"p1":108,"p10":123,"p30":142,"p50":160,"p70":184,"p90":247,"p99":345},
      {"yr":3.5,"p1":124,"p10":141,"p30":162,"p50":182,"p70":206,"p90":268,"p99":366},
      {"yr":4,"p1":135,"p10":154,"p30":175,"p50":196,"p70":218,"p90":272,"p99":358},
      {"yr":4.5,"p1":138,"p10":160,"p30":180,"p50":199,"p70":217,"p90":262,"p99":330},
      {"yr":5,"p1":134,"p10":158,"p30":176,"p50":191,"p70":205,"p90":240,"p99":286},
      {"yr":5.5,"p1":128,"p10":152,"p30":166,"p50":178,"p70":188,"p90":215,"p99":245},
      {"yr":6,"p1":123,"p10":143,"p30":153,"p50":162,"p70":170,"p90":192,"p99":207},
      {"yr":6.5,"p1":117,"p10":131,"p30":139,"p50":145,"p70":150,"p90":165,"p99":173},
      {"yr":7,"p1":111,"p10":119,"p30":123,"p50":127,"p70":130,"p90":140,"p99":145},
      {"yr":7.5,"p1":103,"p10":107,"p30":110,"p50":113,"p70":115,"p90":120,"p99":123},
      {"yr":8,"p1":96,"p10":97,"p30":99,"p50":101,"p70":102,"p90":104,"p99":105},
      {"yr":8.5,"p1":88,"p10":89,"p30":91,"p50":92,"p70":93,"p90":93,"p99":94},
      {"yr":9,"p1":82,"p10":83,"p30":84,"p50":85,"p70":86,"p90":86,"p99":87},
      {"yr":9.5,"p1":78,"p10":78,"p30":79,"p50":80,"p70":81,"p90":81,"p99":82},
      {"yr":10,"p1":75,"p10":75,"p30":76,"p50":77,"p70":78,"p90":78,"p99":79},
      {"yr":10.5,"p1":73,"p10":73,"p30":74,"p50":75,"p70":76,"p90":76,"p99":77},
      {"yr":11,"p1":71,"p10":72,"p30":73,"p50":73,"p70":74,"p90":74,"p99":75},
      {"yr":11.5,"p1":69,"p10":70,"p30":71,"p50":72,"p70":72,"p90":73,"p99":74},
      {"yr":11.75,"p1":68,"p10":69,"p30":70,"p50":71,"p70":72,"p90":74,"p99":80},
      {"yr":12,"p1":68,"p10":69,"p30":70,"p50":72,"p70":74,"p90":82,"p99":100}
    ]
  },
  "vconcat": [
    {
      "width": 845,
      "height": 277,
      "data": {"name": "ssn"},
      "transform": [{"fold": ["A","B","C","D","E","F","G","H","I","J","K","L","M","N","O","P","Q","R","S","T"], "as": ["series", "val"]}],
      "mark": {"type": "line", "strokeWidth": 1.8, "clip": true},
      "encoding": {
        "x": {"field": "yr", "type": "quantitative", "scale": {"domain": [-2, 12], "nice": false, "zero": false}, "axis": {"values": [-2, 0, 2, 4, 6, 8, 10, 12], "title": null}},
        "y": {"field": "val", "type": "quantitative", "scale": {"domain": [0, 400], "nice": false}, "axis": {"values": [0, 100, 200, 300, 400], "title": "SSN"}},
        "color": {
          "field": "series", "type": "nominal",
          "scale": {
            "domain": ["A","B","C","D","E","F","G","H","I","J","K","L","M","N","O","P","Q","R","S","T","p1","p10","p30","p50","p70","p90","p99"],
            "range": ["#0033cc","#0050d0","#0066aa","#00789f","#008080","#009473","#00a860","#00c040","#00d830","#20cc10","#40e000","#60b000","#70a000","#808800","#996600","#a85a00","#b84800","#cc3300","#e61800","#ff0000","#000000","#000000","#000000","#000000","#000000","#000000","#000000"]
          },
          "legend": {
            "values": ["T", "p50"],
            "labelExpr": "datum.value == 'T' ? '20 Scenarios' : '1,10,30,50,70,90,99% of Updated Xapsos Model'",
            "title": null, "orient": "none", "legendX": -29, "legendY": 657, "direction": "horizontal",
            "encode": {"symbols": {"update": {"strokeWidth": {"signal": "datum.value == 'T' ? 1.8 : 3.6"}}}}
          }
        }
      }
    },
    {
      "width": 845,
      "height": 201,
      "encoding": {
        "x": {"field": "yr", "type": "quantitative", "scale": {"domain": [-2, 12], "nice": false, "zero": false}, "axis": {"values": [-2, 0, 2, 4, 6, 8, 10, 12], "title": "Years after Solar Minimum"}},
        "y": {"field": "val", "type": "quantitative", "scale": {"domain": [0, 400], "nice": false}, "axis": {"values": [0, 200, 400], "title": "F10.7"}},
        "color": {
          "field": "series", "type": "nominal",
          "scale": {
            "domain": ["A","B","C","D","E","F","G","H","I","J","K","L","M","N","O","P","Q","R","S","T","p1","p10","p30","p50","p70","p90","p99"],
            "range": ["#0033cc","#0050d0","#0066aa","#00789f","#008080","#009473","#00a860","#00c040","#00d830","#20cc10","#40e000","#60b000","#70a000","#808800","#996600","#a85a00","#b84800","#cc3300","#e61800","#ff0000","#000000","#000000","#000000","#000000","#000000","#000000","#000000"]
          },
          "legend": {
            "values": ["T", "p50"],
            "labelExpr": "datum.value == 'T' ? '20 Scenarios' : '1,10,30,50,70,90,99% of Updated Xapsos Model'",
            "title": null, "orient": "none", "legendX": -29, "legendY": 657, "direction": "horizontal",
            "encode": {"symbols": {"update": {"strokeWidth": {"signal": "datum.value == 'T' ? 1.8 : 3.6"}}}}
          }
        }
      },
      "layer": [
        {
          "data": {"name": "f107"},
          "transform": [{"fold": ["A","B","C","D","E","F","G","H","I","J","K","L","M","N","O","P","Q","R","S","T"], "as": ["series", "val"]}],
          "mark": {"type": "line", "strokeWidth": 1.8, "clip": true}
        },
        {
          "data": {"name": "pct"},
          "transform": [{"fold": ["p1","p10","p30","p50","p70","p90","p99"], "as": ["series", "val"]}],
          "mark": {"type": "line", "strokeWidth": 3.6, "clip": true}
        }
      ]
    }
  ]
}
